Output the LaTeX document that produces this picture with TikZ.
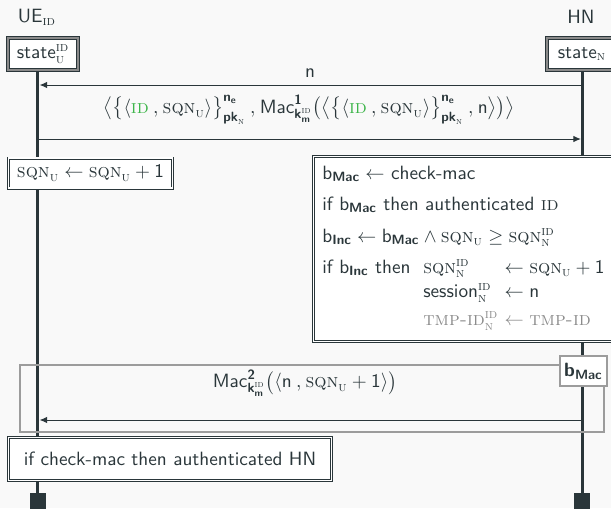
\documentclass[tikz,border=0pt]{standalone}
\usepackage{amsmath,amssymb}
\usepackage{fontspec}
\usetikzlibrary{arrows.meta,backgrounds}

\definecolor{ink}{HTML}{2A363A}
\definecolor{bgc}{HTML}{F9F9F9}
\definecolor{midgray}{HTML}{8A8A8A}
\definecolor{framegray}{HTML}{9C9C9C}
\definecolor{idgreen}{HTML}{3DB54A}
\definecolor{fadetext}{HTML}{8C8C8C}

% one drawing unit
\newdimen\pxu \pxu=0.52pt

% small caps (serif) in text and math, sans pieces in math
\newcommand{\scx}[1]{\textrm{\textsc{#1}}}
\newcommand{\tsc}[1]{\text{\scx{#1}}}
\newcommand{\bsf}[1]{\text{\sffamily\bfseries #1}}
\newcommand{\nsf}[1]{\text{\sffamily #1}}
\newcommand{\sqnu}{\tsc{sqn}_{\tsc{u}}}
\newcommand{\kmid}{\bsf{k}^{\tsc{id}}_{\bsf{m}}}
\newcommand{\encid}{\bigl\{\langle \textcolor{idgreen}{\tsc{id}} \mathbin{,} \sqnu \rangle\bigr\}^{\bsf{n}_{\bsf{e}}}_{\bsf{pk}_{\tsc{n}}}}
\newcommand{\bmac}{\nsf{b}_{\bsf{Mac}}}

\begin{document}
\begin{tikzpicture}[x=\pxu, y=-\pxu, font=\sffamily, text=ink,
  life/.style={draw=ink, line width=3\pxu},
  msg/.style={draw=ink, line width=1\pxu, -{Latex[length=3.9pt,width=3.4pt]}},
  statebox/.style={draw=ink, line width=0.85\pxu, double=midgray, double distance=2.8\pxu,
    fill=white, inner sep=0pt, minimum width=70\pxu, minimum height=32\pxu},
  dbox/.style={draw=ink, line width=0.85\pxu, double=white, double distance=1.3\pxu,
    fill=white, inner sep=0pt},
  endsq/.style={fill=ink, minimum size=16\pxu, inner sep=0pt},
  framebox/.style={draw=framegray, line width=1.6\pxu, inner sep=0pt},
  guard/.style={draw=framegray, line width=1.1\pxu, fill=white, inner sep=0pt,
    minimum width=47\pxu, minimum height=30\pxu},
  lbl/.style={inner sep=1pt},
  procline/.style={anchor=base west, inner sep=0pt}
]
\useasboundingbox (0,0) rectangle (611,508);
\clip (0,0) rectangle (611,508);

% participants
\node[lbl] (ue) at (37,17) {UE$_{\tsc{id}}$};
\node[lbl] (hn) at (581,17) {HN};
\node[statebox] (su) at (43,54) {state$^{\tsc{id}}_{\tsc{u}}$};
\node[statebox] (sn) at (582,54) {state$_{\tsc{n}}$};

% lifeline ends
\node[endsq] (ueend) at (38,501) {};
\node[endsq] (hnend) at (582.5,501) {};
\coordinate (uetop) at (38,72);
\coordinate (hntop) at (582.5,72);

% message end points on the lifelines
\coordinate (m1s) at (582.5,85);
\coordinate (m1e) at (39.6,85);
\coordinate (m2s) at (38,139);
\coordinate (m2e) at (580.9,139);
\coordinate (m3s) at (582.5,420);
\coordinate (m3e) at (39.6,420);

% messages
\draw[msg] (m1s) -- (m1e);
\node[lbl] (l1) at (310,73) {n};
\draw[msg] (m2s) -- (m2e);
\node[lbl] (l2) at (309,110)
  {$\bigl\langle \encid \mathbin{,} \nsf{Mac}^{\bsf{1}}_{\kmid}\bigl(\bigl\langle \encid \mathbin{,} \nsf{n}\bigr\rangle\bigr)\bigr\rangle$};

% UE update
\node[dbox, minimum width=164\pxu, minimum height=30\pxu] (upd) at (90.5,173)
  {$\sqnu \leftarrow \sqnu + \mathsf{1}$};

% HN processing
\node[dbox, minimum width=326\pxu, minimum height=185\pxu] (proc) at (476.75,249) {};
\node[procline] (p1) at (322,179) {$\bmac \leftarrow$ check-mac};
\node[procline] (p2) at (322,210) {if $\bmac$ then authenticated \scx{id}};
\node[procline] (p3) at (322,242)
  {$\nsf{b}_{\bsf{Inc}} \leftarrow \bmac \wedge \sqnu \geq \tsc{sqn}^{\tsc{id}}_{\tsc{n}}$};
\node[procline] (p4) at (322,273)
  {\renewcommand{\arraystretch}{1}%
   \begin{tabular}[t]{@{}l@{\ \ }l@{\ }l@{}}
   if $\nsf{b}_{\bsf{Inc}}$ then & $\tsc{sqn}^{\tsc{id}}_{\tsc{n}}$ & $\leftarrow \sqnu + \mathsf{1}$\\[0.8pt]
   & session$^{\tsc{id}}_{\tsc{n}}$ & $\leftarrow \nsf{n}$\\[2.6pt]
   & \color{fadetext}$\tsc{tmp-id}^{\tsc{id}}_{\tsc{n}}$ & \color{fadetext}$\leftarrow \tsc{tmp-id}$
   \end{tabular}};

% guarded reply
\node[framebox, minimum width=584\pxu, minimum height=67\pxu] (frm) at (312,398.5) {};
\node[guard] (g) at (583.5,371) {$\bsf{b}_{\bsf{Mac}}$};
\draw[msg] (m3s) -- (m3e);
\node[lbl] (l3) at (305,383)
  {$\nsf{Mac}^{\bsf{2}}_{\kmid}\bigl(\langle \nsf{n} \mathbin{,} \sqnu + \mathsf{1}\rangle\bigr)$};

% UE final check
\node[dbox, minimum width=323\pxu, minimum height=43\pxu] (fin) at (170,459)
  {if check-mac then authenticated HN};

\begin{scope}[on background layer]
  \fill[bgc] (0,0) rectangle (611,508);
  \draw[life] (uetop) -- (ueend.north);
  \draw[life] (hntop) -- (hnend.north);
\end{scope}
\end{tikzpicture}
\end{document}
